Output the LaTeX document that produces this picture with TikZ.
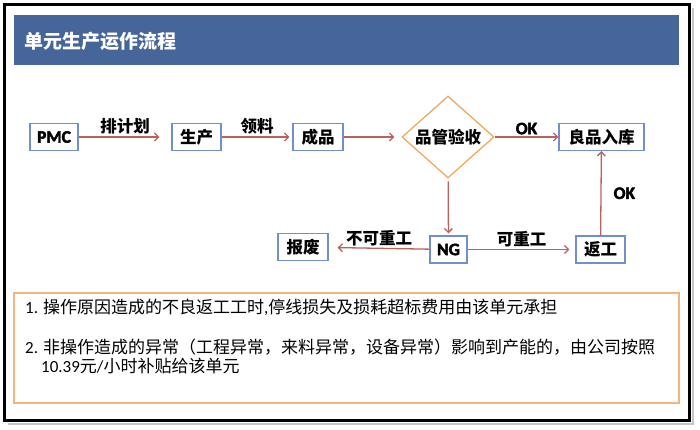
\documentclass[tikz,border=0pt]{standalone}
\usepackage{fontspec}
\setmainfont{Carlito}
\newfontfamily\cjk{Noto Sans CJK SC}
\newfontfamily\lat{Carlito}
\newfontfamily\latb[FakeBold=2.5]{Carlito}
\usepackage{tikz}
\usetikzlibrary{shapes.geometric,arrows.meta}
\definecolor{titleblue}{RGB}{70,101,152}
\definecolor{boxblue}{RGB}{112,142,208}
\definecolor{flowred}{RGB}{190,96,94}
\definecolor{qcorange}{RGB}{240,165,85}
\definecolor{noteorange}{RGB}{244,180,125}
\tikzstyle{Box}=[rectangle, draw=boxblue, line width=1.2, minimum height=27, inner xsep=0, font=\cjk\bfseries\fontsize{16.5}{19}\selectfont]
\tikzstyle{Check}=[diamond, draw=qcorange, line width=1.2, minimum width=92, minimum height=76, inner sep=0, font=\cjk\bfseries\fontsize{16.5}{19}\selectfont]
\tikzstyle{Flow}=[draw=flowred, line width=1.3, -{Straight Barb[length=4pt,width=8pt]}]
\tikzstyle{Lbl}=[font=\cjk\bfseries\fontsize{16.5}{19}\selectfont, inner sep=2]
\tikzstyle{Note}=[anchor=west, inner sep=0, font=\cjk\fontsize{17}{20}\selectfont]
\newcommand{\bl}[1]{{\latb\fontsize{17.5}{19}\selectfont #1}}

\begin{document}
\begin{tikzpicture}[x=1pt,y=-1pt]
    \useasboundingbox (0,0) rectangle (700,430);
    % frame and title bar
    \draw[gray!45, line width=2] (693,8) -- (693,424) -- (8,424);
    \draw[line width=3] (4.5,4.5) rectangle (689.5,420.5);
    \fill[titleblue] (14,15) rectangle (679,65);
    \node[anchor=west, inner sep=0, text=white, font=\cjk\bfseries\fontsize{19}{22}\selectfont] (title) at (24,41) {单元生产运作流程};

    \path
    (54,137) node[Box, minimum width=48] (pmc) {\bl{PMC}}
    (196.5,137) node[Box, minimum width=49] (prod) {生产}
    (318,137) node[Box, minimum width=50] (fin) {成品}
    (448,137) node[Check] (qc) {品管验收}
    (601.5,137) node[Box, minimum width=85] (good) {良品入库}
    (448.5,249.5) node[Box, minimum width=37] (ng) {\bl{NG}}
    (600.5,249.5) node[Box, minimum width=49] (rework) {返工}
    (303,247) node[Box, minimum width=50] (scrap) {报废};

    \draw[Flow, shorten >=12] (pmc) -- node[Lbl, above] (plan) {排计划} (prod);
    \draw[Flow, shorten >=3] (prod) -- node[Lbl, above] (pick) {领料} (fin);
    \draw[Flow, shorten >=7] (fin) -- (qc);
    \draw[Flow] (qc) -- node[Lbl, above] (okq) {\bl{OK}} (good);
    \draw[Flow, shorten <=3, shorten >=2] (qc) -- (ng);
    \draw[Flow, shorten >=9] (ng) -- node[Lbl, above] (nofix) {不可重工} (scrap);
    \draw[Flow, shorten >=6] (ng) -- node[Lbl, above] (fix) {可重工} (rework);
    \draw[Flow] (rework) -- node[Lbl, right=10] (okr) {\bl{OK}} (good);

    % notes
    \draw[noteorange, line width=1.2] (14,293) rectangle (679,403);
    \node[Note] (n1) at (25,307) {{\lat 1. }操作原因造成的不良返工工时{\lat ,}停线损失及损耗超标费用由该单元承担};
    \node[Note] (n2) at (25,347) {{\lat 2. }非操作造成的异常（工程异常，来料异常，设备异常）影响到产能的，由公司按照};
    \node[Note] (n3) at (41,366) {{\lat 10.39}元{\lat /}小时补贴给该单元};
\end{tikzpicture}
\end{document}
